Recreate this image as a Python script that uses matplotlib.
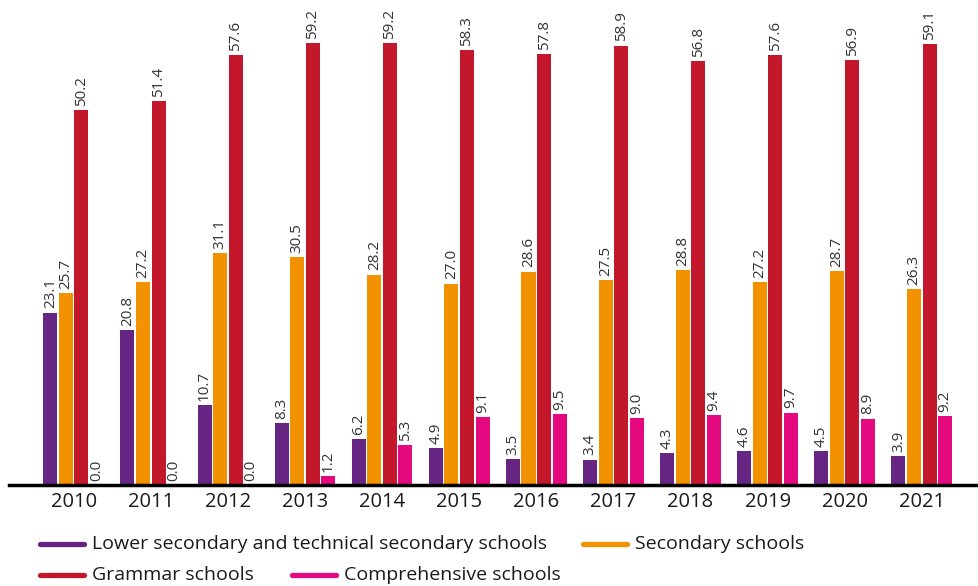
import numpy as np
import matplotlib.pyplot as plt
from matplotlib.lines import Line2D

plt.rcParams['font.family'] = ['Open Sans', 'DejaVu Sans']

years = ['2010', '2011', '2012', '2013', '2014', '2015',
         '2016', '2017', '2018', '2019', '2020', '2021']
lower_secondary = [23.1, 20.8, 10.7, 8.3, 6.2, 4.9, 3.5, 3.4, 4.3, 4.6, 4.5, 3.9]
secondary = [25.7, 27.2, 31.1, 30.5, 28.2, 27.0, 28.6, 27.5, 28.8, 27.2, 28.7, 26.3]
grammar = [50.2, 51.4, 57.6, 59.2, 59.2, 58.3, 57.8, 58.9, 56.8, 57.6, 56.9, 59.1]
comprehensive = [0.0, 0.0, 0.0, 1.2, 5.3, 9.1, 9.5, 9.0, 9.4, 9.7, 8.9, 9.2]

series = [
    ('Lower secondary and technical secondary schools', lower_secondary, '#662483'),
    ('Secondary schools', secondary, '#F39200'),
    ('Grammar schools', grammar, '#C3172B'),
    ('Comprehensive schools', comprehensive, '#E5097F'),
]

W, H = 979, 586
fig = plt.figure(figsize=(W / 100, H / 100), dpi=100)
ax = fig.add_axes([9 / W, (H - 485) / H, 970 / W, 485 / H])

x = np.arange(len(years))
step = 0.202
width = 0.182
for k, (name, vals, color) in enumerate(series):
    pos = x + (k - 1.5) * step
    ax.bar(pos, vals, width=width, color=color, zorder=2)
    for p, v in zip(pos, vals):
        ax.annotate(f'{v:.1f}', (p, v), xytext=(0, 3), textcoords='offset points',
                    rotation=90, ha='center', va='bottom', fontsize=11,
                    color='#333333', annotation_clip=False)

ax.set_xlim(-0.839, 11.742)
ax.set_ylim(0, 65)
for s in ['top', 'right', 'left']:
    ax.spines[s].set_visible(False)
ax.spines['bottom'].set_linewidth(2.5)
ax.spines['bottom'].set_color('black')
ax.spines['bottom'].set_zorder(3)
ax.set_yticks([])
ax.set_xticks(x)
ax.set_xticklabels(years, fontsize=14.5, color='#1a1a1a')
ax.tick_params(axis='x', length=0, pad=5)

# legend laid out by hand in two rows
legend_items = [
    (38, 544, series[0]),
    (581, 544, series[1]),
    (38, 575, series[2]),
    (290, 575, series[3]),
]
for lx, ly, (name, _, color) in legend_items:
    fy = (H - ly) / H
    fig.add_artist(Line2D([(lx + 2) / W, (lx + 46) / W], [fy, fy], color=color,
                          linewidth=3.8, solid_capstyle='round'))
    fig.text((lx + 54) / W, fy, name, fontsize=14, color='#1a1a1a',
             ha='left', va='center')

fig.savefig('out.png', dpi=100)
